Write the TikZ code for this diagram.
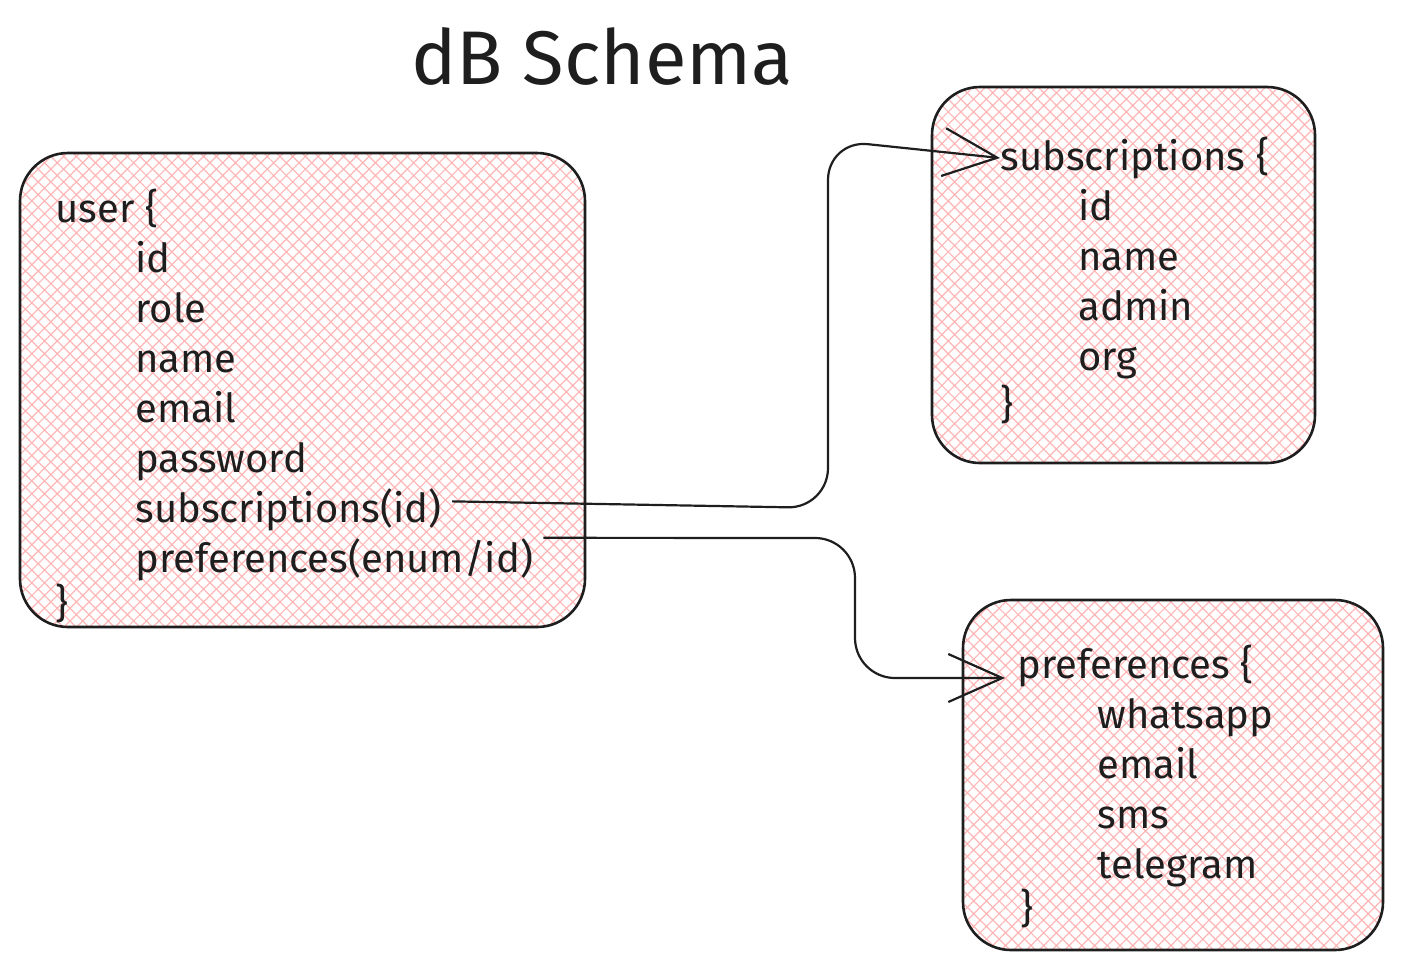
\documentclass[tikz,border=0pt]{standalone}
\usepackage{fontspec}
\setmainfont{Fira Sans}
\usetikzlibrary{arrows.meta,patterns.meta}
\definecolor{ink}{HTML}{1E1E1E}
\definecolor{hatchpink}{HTML}{FFB6B6}

\begin{document}
\begin{tikzpicture}[x=0.5pt,y=-0.5pt,
  box/.style={draw=ink,line width=1.3pt,rounded corners=24pt,
    pattern={Hatch[angle=45,distance=4.5pt,line width=0.6pt]},pattern color=hatchpink},
  field/.style={anchor=base west,inner sep=0pt,text=ink,font=\fontsize{20}{24}\selectfont},
  link/.style={draw=ink,line width=1.1pt,rounded corners=20pt,
    -{Straight Barb[length=27pt,width=24pt,line width=1.1pt]}}]
\useasboundingbox (0,0) rectangle (1402,971);
\node[anchor=base,text=ink,font=\fontsize{38}{44}\selectfont] (title) at (602,84) {dB Schema};
% boxes
\node[box,minimum width=282.5pt,minimum height=237pt] (user) at (302.5,390) {};
\node[box,minimum width=191.5pt,minimum height=188pt] (subs) at (1123.5,275) {};
\node[box,minimum width=210pt,minimum height=175pt] (prefs) at (1173,775) {};
% user table
\node[field] (uopen) at (55,222) {user \{};
\foreach \t [count=\i] in {id,role,name,email,password}
  \node[field] (u\i) at (135,222+50*\i) {\t};
\node[field] (usub) at (135,522) {subscriptions(id)};
\node[field] (upref) at (135,572) {preferences(enum/id)};
\node[field] (uclose) at (55,617) {\}};
% subscriptions table
\node[field] (sopen) at (1000,170) {subscriptions \{};
\foreach \t [count=\i] in {id,name,admin,org}
  \node[field] (s\i) at (1078,170+50*\i) {\t};
\node[field] (sclose) at (1000,418) {\}};
% preferences table
\node[field] (popen) at (1017,678) {preferences \{};
\foreach \t [count=\i] in {whatsapp,email,sms,telegram}
  \node[field] (p\i) at (1097,678+50*\i) {\t};
\node[field] (pclose) at (1020,922) {\}};
% links
\draw[link] ([xshift=5pt,yshift=4pt]usub.east) -- (828,508) -- (828,140)
  -- ([yshift=6pt]sopen.base west);
\draw[link] ([xshift=5pt]upref.north east) -- (855,538) -- (855,678)
  -- ([xshift=-6pt]popen.base west);
\end{tikzpicture}
\end{document}
